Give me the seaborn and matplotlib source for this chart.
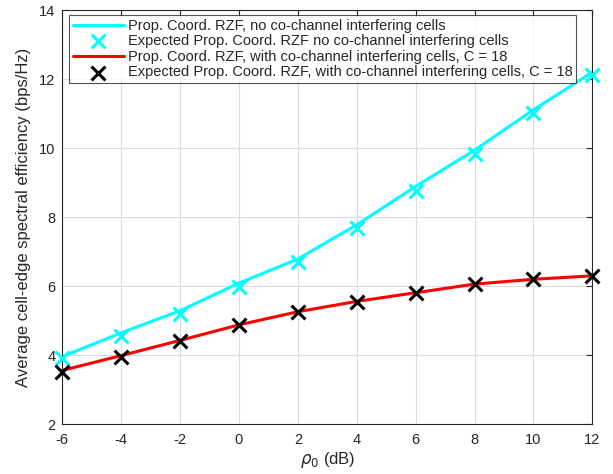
import pandas as pd
import seaborn as sns
import matplotlib.pyplot as plt

rho0 = [-6, -4, -2, 0, 2, 4, 6, 8, 10, 12]

# simulated curves
no_interf = [3.96, 4.65, 5.29, 6.09, 6.79, 7.78, 8.89, 9.94, 11.11, 12.2]
with_interf = [3.56, 3.99, 4.43, 4.88, 5.26, 5.56, 5.81, 6.06, 6.2, 6.3]

# expected (analytical) points
exp_no_interf = [3.92, 4.56, 5.2, 5.99, 6.69, 7.68, 8.75, 9.82, 11.01, 12.12]
exp_with_interf = [3.51, 3.95, 4.4, 4.88, 5.24, 5.54, 5.8, 6.06, 6.2, 6.3]

labels = ['Prop. Coord. RZF, no co-channel interfering cells',
          'Expected Prop. Coord. RZF no co-channel interfering cells',
          'Prop. Coord. RZF, with co-channel interfering cells, C = 18',
          'Expected Prop. Coord. RZF, with co-channel interfering cells, C = 18']

df = pd.DataFrame({'rho0': rho0, 'a': no_interf, 'b': exp_no_interf,
                   'c': with_interf, 'd': exp_with_interf})

sns.set_style('white')
plt.rcParams['font.family'] = ['Liberation Sans', 'DejaVu Sans']
plt.rcParams['axes.unicode_minus'] = False

fig = plt.figure(figsize=(6.13, 4.74), dpi=100)
ax = fig.add_axes([0.1016, 0.1049, 0.8646, 0.874])

sns.lineplot(data=df, x='rho0', y='a', color='#00ffff', linewidth=2.2, ax=ax, label=labels[0])
sns.scatterplot(data=df, x='rho0', y='b', color='#00ffff', marker='x', s=100, linewidth=2.2, ax=ax, label=labels[1], zorder=3)
sns.lineplot(data=df, x='rho0', y='c', color='#ff0000', linewidth=2.2, ax=ax, label=labels[2])
sns.scatterplot(data=df, x='rho0', y='d', color='black', marker='x', s=100, linewidth=2.2, ax=ax, label=labels[3], zorder=3)
for c in ax.collections:
    c.set_clip_on(False)

ax.set_xlim(-6, 12)
ax.set_ylim(2, 14)
ax.set_xticks(range(-6, 13, 2))
ax.set_yticks(range(2, 15, 2))
ax.grid(True, color='#dcdcdc', linewidth=0.8)
ax.tick_params(direction='in', top=True, right=True, length=4, labelsize=10.5, colors='#262626', pad=5)
ax.tick_params(axis='x', pad=6.5)
for s in ax.spines.values():
    s.set_color('#262626')
    s.set_linewidth(0.8)

ax.set_xlabel(r'$\rho_0$ (dB)', fontsize=12, labelpad=2)
ax.set_ylabel('Average cell-edge spectral efficiency (bps/Hz)', fontsize=12, labelpad=6)

leg = ax.legend(loc='upper left', bbox_to_anchor=(0.013, 0.988), fontsize=10.5, frameon=True,
                fancybox=False, edgecolor='#262626', handlelength=3.5, labelspacing=0.11,
                borderpad=0.25, handletextpad=0.27, borderaxespad=0)
leg.get_frame().set_linewidth(0.8)

plt.savefig('out.png', dpi=100)
